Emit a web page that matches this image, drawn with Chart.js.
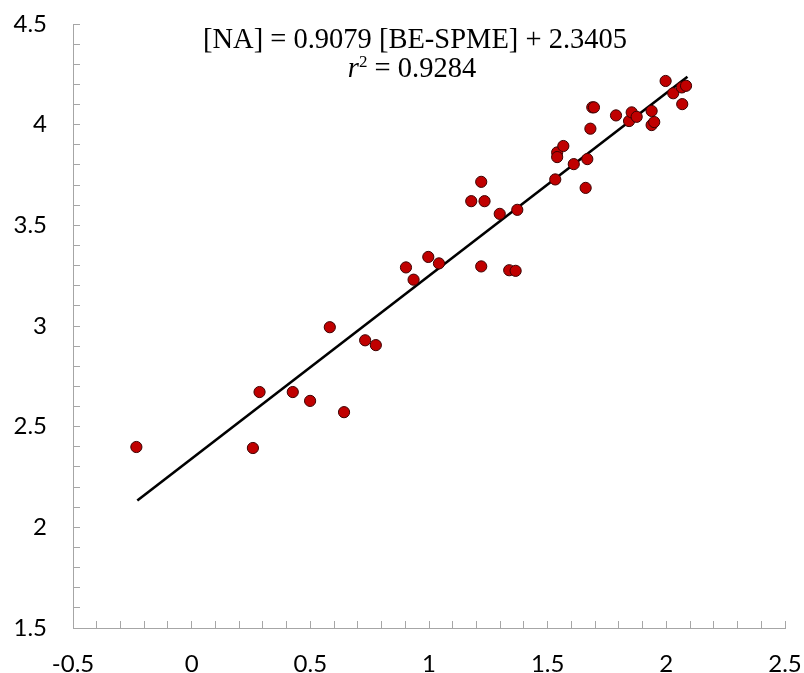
<!DOCTYPE html>
<html>
<head>
<meta charset="utf-8">
<script src="https://cdn.jsdelivr.net/npm/chart.js@4"></script>
<style>
  html, body { margin: 0; padding: 0; background: #fff; }
</style>
</head>
<body>
<canvas id="chart" width="804" height="673"></canvas>
<script>
// measured values (BE-SPME vs NA)
const beSpme = [-0.233, 0.258, 0.286, 0.426, 0.499, 0.642, 0.582, 0.731, 0.776, 0.903,
  0.935, 0.997, 1.042, 1.178, 1.220, 1.234, 1.220, 1.298, 1.338, 1.365,
  1.372, 1.532, 1.540, 1.540, 1.566, 1.610, 1.660, 1.667, 1.680, 1.688,
  1.695, 1.788, 1.843, 1.854, 1.875, 1.938, 1.938, 1.949, 1.997, 2.029,
  2.065, 2.083, 2.067];
const naValues = [2.399, 2.394, 2.672, 2.672, 2.628, 2.572, 2.994, 2.929, 2.905, 3.291,
  3.230, 3.343, 3.311, 3.620, 3.716, 3.620, 3.296, 3.557, 3.277, 3.274,
  3.577, 3.728, 3.862, 3.839, 3.894, 3.804, 3.686, 3.829, 3.980, 4.086,
  4.086, 4.046, 4.018, 4.061, 4.039, 4.068, 3.998, 4.013, 4.217, 4.156,
  4.185, 4.193, 4.102];

// regression line end points
const fitX = [-0.229, 2.089];
const fitY = [2.133, 4.238];

const xTickLabels = [-0.5, 0, 0.5, 1, 1.5, 2, 2.5];
const yTickLabels = [1.5, 2, 2.5, 3, 3.5, 4, 4.5];

const equationText = '[NA] = 0.9079 [BE-SPME] + 2.3405';
const r2Value = ' = 0.9284';

const axisGray = '#a6a6a6';

function labelFor(list) {
    return function(value) {
        const hit = list.find(v => Math.abs(v - value) < 1e-6);
        return hit === undefined ? '' : String(hit);
    };
}

// equation text box
const equationPlugin = {
    id: 'equation',
    afterDraw(chart) {
        const ctx = chart.ctx;
        ctx.save();
        ctx.fillStyle = '#000';
        ctx.textBaseline = 'alphabetic';
        ctx.font = '28.5px "Liberation Serif"';
        ctx.textAlign = 'center';
        ctx.fillText(equationText, 415, 48);

        // second line: italic r, superscript 2, value
        ctx.textAlign = 'left';
        const rFont = 'italic 28.5px "Liberation Serif"';
        const supFont = '17px "Liberation Serif"';
        const mainFont = '28.5px "Liberation Serif"';
        ctx.font = rFont;
        const wr = ctx.measureText('r').width;
        ctx.font = supFont;
        const ws = ctx.measureText('2').width;
        ctx.font = mainFont;
        const wv = ctx.measureText(r2Value).width;
        let x = 412 - (wr + ws + wv) / 2;
        ctx.font = rFont;
        ctx.fillText('r', x, 77);
        x += wr;
        ctx.font = supFont;
        ctx.fillText('2', x, 67);
        x += ws;
        ctx.font = mainFont;
        ctx.fillText(r2Value, x, 77);
        ctx.restore();
    }
};

const ctx = document.getElementById('chart').getContext('2d');

const chart = new Chart(ctx, {
    type: 'scatter',
    data: {
        datasets: [
            {
                type: 'line',
                label: 'fit',
                data: fitX.map((x, i) => ({ x: x, y: fitY[i] })),
                borderColor: '#000',
                borderWidth: 2.6,
                pointRadius: 0,
                fill: false,
                order: 2
            },
            {
                label: 'data',
                data: beSpme.map((x, i) => ({ x: x, y: naValues[i] })),
                backgroundColor: '#c00000',
                borderColor: '#3d0000',
                borderWidth: 1,
                pointRadius: 5.6,
                order: 1
            }
        ]
    },
    options: {
        responsive: false,
        animation: false,
        devicePixelRatio: 1,
        layout: {
            padding: { top: 24, right: 19, left: 0, bottom: 0 }
        },
        scales: {
            x: {
                type: 'linear',
                min: -0.5,
                max: 2.5,
                afterFit: s => {
                    s.height = 45;
                    s.paddingLeft = 0;
                    s.paddingRight = 0;
                },
                ticks: {
                    stepSize: 0.1,
                    autoSkip: false,
                    maxRotation: 0,
                    padding: 29,
                    color: '#000',
                    font: { family: 'Lato', size: 24 },
                    callback: labelFor(xTickLabels)
                },
                grid: {
                    drawOnChartArea: false,
                    drawTicks: true,
                    tickLength: -7,
                    tickColor: axisGray
                },
                border: { color: axisGray, width: 1 }
            },
            y: {
                type: 'linear',
                min: 1.5,
                max: 4.5,
                afterFit: s => {
                    s.width = 73;
                    s.paddingTop = 0;
                    s.paddingBottom = 0;
                },
                ticks: {
                    stepSize: 0.1,
                    autoSkip: false,
                    padding: 33,
                    color: '#000',
                    font: { family: 'Lato', size: 24 },
                    callback: labelFor(yTickLabels)
                },
                grid: {
                    drawOnChartArea: false,
                    drawTicks: true,
                    tickLength: -7,
                    tickColor: axisGray
                },
                border: { color: axisGray, width: 1 }
            }
        },
        plugins: {
            legend: { display: false },
            tooltip: { enabled: false }
        }
    },
    plugins: [equationPlugin]
});
</script>
</body>
</html>
